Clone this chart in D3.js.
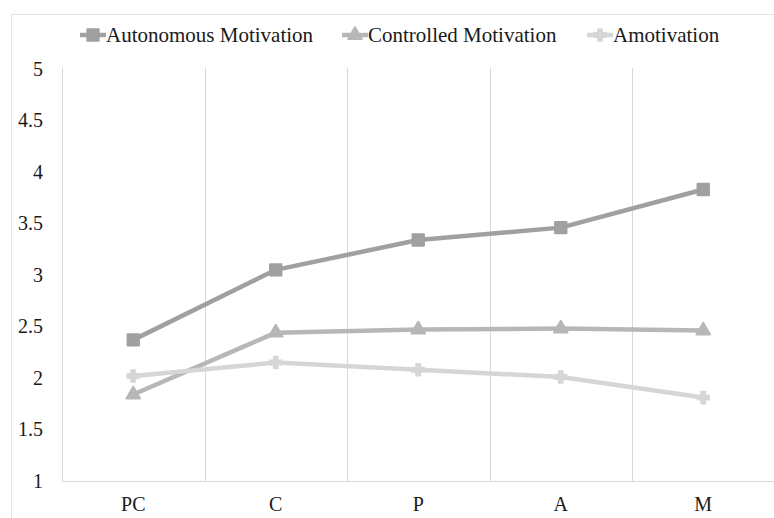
<!DOCTYPE html>
<html>
<head>
<meta charset="utf-8">
<script src="https://cdn.jsdelivr.net/npm/d3@7/dist/d3.min.js"></script>
<style>
  html, body { margin: 0; padding: 0; background: #fff; }
  svg { display: block; }
  svg text { font-family: "Liberation Serif", Tinos, "Times New Roman", "DejaVu Serif", serif !important; fill: #1a1a1a; }
</style>
</head>
<body>
<svg id="chart" width="774" height="518"></svg>
<script>
const categories = ["PC", "C", "P", "A", "M"];
const seriesNames = ["Autonomous Motivation", "Controlled Motivation", "Amotivation"];
const autonomous = [2.37, 3.05, 3.34, 3.46, 3.83];
const controlled = [1.84, 2.44, 2.47, 2.48, 2.46];
const amotivation = [2.02, 2.15, 2.08, 2.01, 1.81];
const yTicks = [1, 1.5, 2, 2.5, 3, 3.5, 4, 4.5, 5];

const seriesValues = [autonomous, controlled, amotivation];
const colors = ["#a0a0a0", "#b7b7b7", "#d6d6d6"];
const symbols = [d3.symbolSquare, d3.symbolTriangle, d3.symbolCross];
const symSizes = [130, 80, 75];

const svg = d3.select("#chart");
const plotL = 62, plotR = 774.5, plotT = 69, plotB = 481;
const FONT = "'Liberation Serif', Tinos, 'Times New Roman', 'DejaVu Serif', serif";

// chart border
svg.append("rect").attr("x", 11.5).attr("y", 14.5).attr("width", 800).attr("height", 600)
  .attr("fill", "none").attr("stroke", "#e3e3e3").attr("stroke-width", 1);

const x = d3.scaleBand().domain(categories).range([plotL, plotR]).padding(0);
const y = d3.scaleLinear().domain([1, 5]).range([plotB, plotT]);

// vertical gridlines at category boundaries
const bounds = categories.map(c => x(c)).concat([x(categories[categories.length - 1]) + x.bandwidth()]);
svg.append("g").selectAll("line").data(bounds).join("line")
  .attr("x1", d => Math.round(d) + 0.5).attr("x2", d => Math.round(d) + 0.5)
  .attr("y1", plotT - 1).attr("y2", plotB)
  .attr("stroke", "#d9d9d9").attr("stroke-width", 1);

// x axis line
svg.append("line").attr("x1", plotL).attr("x2", plotR).attr("y1", plotB + 0.5).attr("y2", plotB + 0.5)
  .attr("stroke", "#d9d9d9").attr("stroke-width", 1);

// y axis labels
const yAxis = d3.axisLeft(y).tickValues(yTicks).tickSize(0).tickPadding(19).tickFormat(d => String(d));
const gy = svg.append("g").attr("transform", `translate(${plotL},0)`).call(yAxis)
  .attr("font-family", FONT).attr("font-size", 20);
gy.select(".domain").remove();
gy.selectAll("text").attr("fill", "#1a1a1a");

// x axis labels
const xAxis = d3.axisBottom(x).tickSize(0).tickPadding(16);
const gx = svg.append("g").attr("transform", `translate(0,${plotB})`).call(xAxis)
  .attr("font-family", FONT).attr("font-size", 20);
gx.select(".domain").remove();
gx.selectAll("text").attr("fill", "#1a1a1a");

// lines and markers
const line = d3.line().x((d, i) => x(categories[i]) + x.bandwidth() / 2).y(d => y(d));
seriesValues.forEach((vals, si) => {
  const g = svg.append("g");
  g.append("path").datum(vals).attr("d", line)
    .attr("fill", "none").attr("stroke", colors[si]).attr("stroke-width", 4.5)
    .attr("stroke-linejoin", "round");
  g.selectAll("path.m").data(vals).join("path").attr("class", "m")
    .attr("d", d3.symbol().type(symbols[si]).size(symSizes[si]))
    .attr("transform", (d, i) => `translate(${x(categories[i]) + x.bandwidth() / 2},${y(d)})`)
    .attr("fill", colors[si]).attr("stroke", colors[si]).attr("stroke-width", 2)
    .attr("stroke-linejoin", "round");
});

// legend
const legendX = [80, 342, 587];
const legendY = 35;
seriesNames.forEach((name, si) => {
  const g = svg.append("g").attr("transform", `translate(${legendX[si]},${legendY})`);
  g.append("line").attr("x1", 0).attr("x2", 26).attr("y1", 0).attr("y2", 0)
    .attr("stroke", colors[si]).attr("stroke-width", 4.5);
  g.append("path").attr("d", d3.symbol().type(symbols[si]).size(symSizes[si]))
    .attr("transform", "translate(13,0)")
    .attr("fill", colors[si]).attr("stroke", colors[si]).attr("stroke-width", 2)
    .attr("stroke-linejoin", "round");
  g.append("text").attr("x", 26).attr("y", 0).attr("dy", "0.35em")
    .attr("font-family", FONT).attr("font-size", 21).text(name);
});
</script>
</body>
</html>
